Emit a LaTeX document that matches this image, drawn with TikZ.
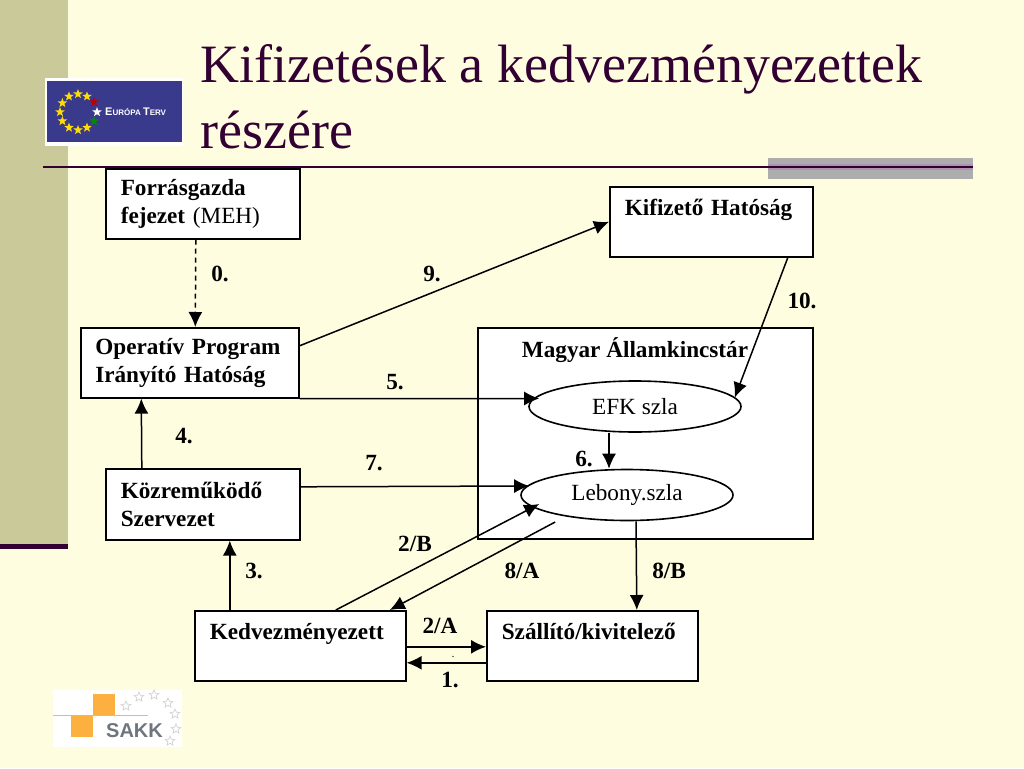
\documentclass[tikz,border=0pt]{standalone}
\usepackage{fontspec}
\setmainfont{Liberation Serif}
\newfontfamily\logofont{Liberation Sans}
\usetikzlibrary{arrows.meta,shapes.geometric}
\definecolor{paper}{HTML}{FFFDE0}
\definecolor{sidebar}{HTML}{C9C99A}
\definecolor{plum}{HTML}{330033}
\definecolor{bandgray}{HTML}{ADADAD}
\definecolor{bandplum}{HTML}{AE94AE}
\definecolor{euroblue}{HTML}{3A3A8C}
\definecolor{sakkorange}{HTML}{FBB040}
\definecolor{sakkgray}{HTML}{6D7680}
\begin{document}
\begin{tikzpicture}[x=1pt,y=-1pt,
    box/.style ={draw, fill=white, line width=1.6pt, anchor=north west, align=left, inner xsep=15pt, inner ysep=0pt,
      font=\fontsize{23.2}{28}\selectfont\bfseries},
    account/.style ={ellipse, draw, fill=white, line width=1.6pt, inner sep=0pt, minimum width=212pt, minimum height=51pt,
      font=\fontsize{23.2}{28}\selectfont},
    flow/.style ={line width=1.5pt, -{Latex[length=15pt,width=14pt]}},
    step label/.style ={inner sep=0pt, font=\fontsize{23.2}{28}\selectfont\bfseries},
    eustar/.style ={star, star points=5, star point ratio=2.4, inner sep=0pt, minimum size=10pt},
    sakkstar/.style ={star, star points=5, star point ratio=2.2, inner sep=0pt, minimum size=10pt, draw=black!18, line width=0.7pt}]
   \useasboundingbox (0,0) rectangle (1024,768);
   \fill[paper] (0,0) rectangle (1024,768);
   \fill[sidebar] (0,0) rectangle (68,546);
   \fill[plum] (0,544) rectangle (68,549);
   \fill[bandgray] (768,158) rectangle (973,179);
   \fill[bandplum] (768,164) rectangle (973,170);
   \draw[plum, line width=2.4pt] (43,167) -- (973,167);
   \node[text=plum, anchor=base west, inner sep=0pt, align=left, font=\fontsize{54}{66}\selectfont] (title) at (200,148)
     {Kifizetések a kedvezményezettek\\részére};

   % logos
   \fill[white] (45,78) rectangle (183,146);
   \fill[euroblue] (47,81) rectangle (182,142);
   \foreach \a in {90,120,...,270,60,300}
     \node[eustar, fill=yellow!80!orange] at ({78+18*cos(\a)},{112-18*sin(\a)}) {};
   \node[eustar, fill=red!75!black] at (94,102) {};
   \node[eustar, fill=white] at (97,112) {};
   \node[eustar, fill=green!55!black] at (94,121) {};
   \node[text=white, anchor=west, inner sep=0pt, font=\logofont\bfseries\fontsize{8}{10}\selectfont] (eurotext) at (105,112)
     {{\fontsize{11}{10}\selectfont E}URÓPA {\fontsize{11}{10}\selectfont T}ERV};
   \fill[white] (53,690) rectangle (182,747);
   \draw[black!25, line width=0.8pt] (53,715) -- (148,715);
   \fill[sakkorange] (93,694) rectangle (115,715);
   \fill[sakkorange] (71,716) rectangle (93,737);
   \node[text=sakkgray, anchor=west, inner sep=0pt, font=\logofont\bfseries\fontsize{20}{22}\selectfont] (sakktext) at (106,731) {SAKK};
   \foreach \x/\y in {126/706,139/697,154/695,168/703,175/714,176/729,170/741}
     \node[sakkstar] at (\x,\y) {};

   % boxes
   \node[box, text width=164pt, minimum height=70pt] (forras) at (105,168) {Forrásgazda\\fejezet \textmd{(MEH)}};
   \node[box, text width=173pt, minimum height=70pt] (kifizeto) at (609,186) {Kifizető Hatóság\\~};
   \node[box, text width=189pt, minimum height=70pt, inner xsep=14.5pt] (operativ) at (80,327) {Operatív Program\\Irányító Hatóság};
   \node[box, text width=305pt, minimum height=211pt] (kincstar) at (477,327) {};
   \node[box, text width=164pt, minimum height=71pt] (kozremukodo) at (105,468) {Közreműködő\\Szervezet};
   \node[box, text width=181pt, minimum height=70pt] (kedvezmenyezett) at (194,610) {Kedvezményezett\\~};
   \node[box, text width=181pt, minimum height=70pt] (szallito) at (486,610) {Szállító/kivitelező\\~};
   \node[step label] (kincstarlabel) at (635,350) {Magyar Államkincstár};
   \node[account] (efk) at (635,406.5) {EFK szla\hspace{40pt}};
   \node[account] (lebony) at (627,495) {Lebony.szla\hspace{16pt}};

   % flows
   \draw[flow, dash pattern=on 5pt off 4pt] ([xshift=-7pt]forras.south) -- ([xshift=5.5pt]operativ.north);
   \draw[flow] ([yshift=17pt]operativ.east) -- (kifizeto.west);
   \draw[flow] ([xshift=76.5pt]kifizeto.south) -- ([xshift=-7pt,yshift=9pt]efk.east);
   \draw[flow] (operativ.south east) -- ([xshift=11pt,yshift=8pt]efk.west);
   \draw[flow] ([xshift=-26pt]efk.south) -- ([xshift=-18pt]lebony.north);
   \draw[flow] ([xshift=-61pt]kozremukodo.north) -- ([xshift=-48.5pt]operativ.south);
   \draw[flow] ([yshift=17.5pt]kozremukodo.east) -- ([xshift=9pt,yshift=9pt]lebony.west);
   \draw[flow] ([xshift=-70.5pt]kedvezmenyezett.north) -- ([xshift=27pt]kozremukodo.south);
   \draw[flow] ([xshift=35.5pt]kedvezmenyezett.north) -- ([xshift=19pt,yshift=-9pt]lebony.west);
   \draw[flow] ([xshift=35pt,yshift=-27pt]lebony.west) -- ([xshift=89.5pt]kedvezmenyezett.north);
   \draw[flow] ([xshift=9pt]lebony.south) -- ([xshift=44.5pt]szallito.north);
   \draw[flow] ([yshift=-1pt]kedvezmenyezett.east) -- ([yshift=-1pt]szallito.west);
   \draw[flow] ([yshift=-17pt]szallito.west) -- ([yshift=-17pt]kedvezmenyezett.east);

   % step labels
   \node[step label] (l0) at (220,274) {0.};
   \node[step label] (l9) at (432,274) {9.};
   \node[step label] (l10) at (802,301) {10.};
   \node[step label] (l5) at (395,382) {5.};
   \node[step label] (l4) at (184,436) {4.};
   \node[step label] (l7) at (374,463) {7.};
   \node[step label] (l6) at (584,459) {6.};
   \node[step label] (l3) at (254,571) {3.};
   \node[step label] (l2b) at (415,544) {2/B};
   \node[step label] (l8a) at (522,571) {8/A};
   \node[step label] (l8b) at (669,571) {8/B};
   \node[step label] (l2a) at (440,626) {2/A};
   \node[step label, font=\fontsize{8}{8}\selectfont\bfseries] (ldot) at (453,657) {.};
   \node[step label] (l1) at (450,680) {1.};
 \end{tikzpicture}
\end{document}
